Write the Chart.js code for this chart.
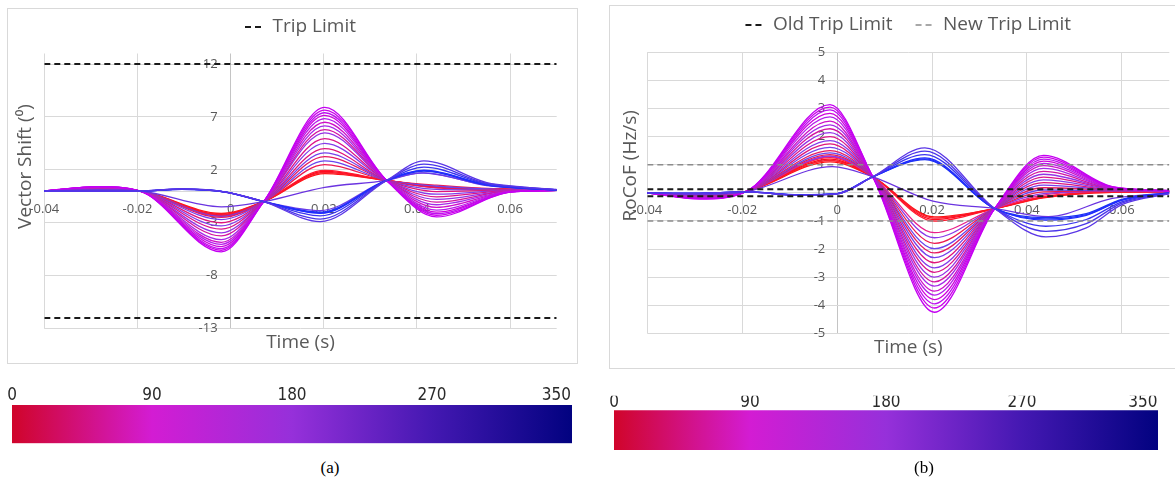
<!DOCTYPE html>
<html>
<head>
<meta charset="utf-8">
<script src="https://cdn.jsdelivr.net/npm/chart.js@4.4.1/dist/chart.umd.min.js"></script>
<style>
    html, body { margin: 0; padding: 0; background: #fff; }
    body { width: 1175px; height: 482px; position: relative; overflow: hidden; }
    .frame { position: absolute; border: 1px solid #d9d9d9; box-sizing: border-box; }
    canvas { position: absolute; }
    .caption { position: absolute; font: 17px "Liberation Serif", "Times New Roman", serif; color: #000; transform: translate(-50%, -50%); }
</style>
</head>
<body>
<div class="frame" style="left:7px;top:8px;width:571px;height:356px"></div>
<div class="frame" style="left:609px;top:5px;width:580px;height:364px"></div>
<canvas id="vsChart" width="590" height="372" style="left:0;top:0"></canvas>
<canvas id="rcChart" width="575" height="372" style="left:600px;top:0"></canvas>
<canvas id="vsBar" width="590" height="72" style="left:0;top:378px"></canvas>
<canvas id="rcBar" width="575" height="82" style="left:600px;top:378px"></canvas>
<div class="caption" style="left:330px;top:468px">(a)</div>
<div class="caption" style="left:924px;top:468px">(b)</div>

<script>
// ========================================
// DATA
// ========================================

// shared time axis
const timeRange = [-0.04, 0.07];
const timeTicks = [-0.04, -0.02, 0, 0.02, 0.04, 0.06];
const timeTickLabels = ["-0.04", "-0.02", "0", "0.02", "0.04", "0.06"];

// (a) vector shift
const vsRange = [-13, 13];
const vsTicks = [-13, -8, -3, 2, 7, 12];
const vsTripLimit = 12;

const vsFanTime = [-0.04, -0.0285, -0.0195, -0.002, 0.0071, 0.0202, 0.0335, 0.0442, 0.06, 0.07];
const vsFan = [
    [0, 0.42, 0, -5.75, -1.0, 7.90, 1.0, -2.45, -0.10, 0.05],
    [0, 0.41, 0, -5.60, -1.0, 7.65, 1.0, -2.30, -0.10, 0.05],
    [0, 0.40, 0, -5.45, -1.0, 7.40, 1.0, -2.15, -0.08, 0.05],
    [0, 0.39, 0, -5.25, -1.0, 7.15, 1.0, -2.00, -0.08, 0.05],
    [0, 0.38, 0, -5.05, -1.0, 6.85, 1.0, -1.80, -0.06, 0.05],
    [0, 0.36, 0, -4.85, -1.0, 6.50, 1.0, -1.55, -0.05, 0.05],
    [0, 0.35, 0, -4.60, -1.0, 6.15, 1.0, -1.30, -0.03, 0.05],
    [0, 0.33, 0, -4.25, -1.0, 5.80, 1.0, -1.05, 0.00, 0.05],
    [0, 0.32, 0, -3.95, -1.0, 5.50, 1.0, -0.80, 0.02, 0.05],
    [0, 0.30, 0, -3.60, -1.0, 4.95, 1.0, -0.55, 0.04, 0.05],
    [0, 0.28, 0, -3.30, -1.0, 4.50, 1.0, -0.30, 0.05, 0.05],
    [0, 0.27, 0, -3.00, -1.0, 4.00, 1.0, -0.05, 0.07, 0.06],
    [0, 0.25, 0, -2.70, -1.0, 3.60, 1.0, 0.15, 0.09, 0.06],
    [0, 0.24, 0, -2.50, -1.0, 3.25, 1.0, 0.30, 0.10, 0.07],
    [0, 0.22, 0, -2.40, -1.0, 2.85, 1.0, 0.45, 0.12, 0.08],
    [0, 0.21, 0, -2.30, -1.0, 2.50, 1.0, 0.55, 0.14, 0.08],
    [0, 0.20, 0, -2.36, -1.0, 1.95, 1.0, 0.42, 0.18, 0.10],
    [0, 0.20, 0, -2.28, -1.0, 1.85, 1.0, 0.40, 0.17, 0.10],
    [0, 0.19, 0, -2.20, -1.0, 1.75, 1.0, 0.36, 0.16, 0.10],
    [0, 0.18, 0, -2.12, -1.0, 1.65, 1.0, 0.32, 0.15, 0.10]
];

const vsBlueTime = [-0.04, -0.03, -0.0195, -0.0105, -0.001, 0.0071, 0.0192, 0.0335, 0.0415, 0.055, 0.062, 0.07];
const vsBlue = [
    [0, 0, 0, 0.20, -0.10, -1.0, -2.90, 1.0, 2.85, 0.80, 0.42, 0.14],
    [0, 0, 0, 0.19, -0.10, -1.0, -2.65, 1.0, 2.55, 0.72, 0.38, 0.13],
    [0, 0, 0, 0.18, -0.10, -1.0, -2.35, 1.0, 2.25, 0.66, 0.34, 0.12],
    [0, 0, 0, 0.17, -0.10, -1.0, -2.12, 1.0, 1.97, 0.60, 0.30, 0.12],
    [0, 0, 0, 0.17, -0.10, -1.0, -2.06, 1.0, 1.92, 0.58, 0.29, 0.11],
    [0, 0, 0, 0.16, -0.10, -1.0, -2.00, 1.0, 1.87, 0.56, 0.28, 0.11],
    [0, 0, 0, 0.15, -0.12, -1.0, -1.85, 1.0, 1.72, 0.50, 0.25, 0.10]
];

const vsOddTime = [-0.04, -0.0285, -0.0195, -0.002, 0.0071, 0.0202, 0.0335, 0.041, 0.055, 0.07];
const vsOdd = [0, 0.12, 0, -1.5, -1.0, 0.35, 1.0, 1.72, 0.55, 0.12];

// (b) RoCoF
const rcRange = [-5, 5];
const rcTicks = [-5, -4, -3, -2, -1, 0, 1, 2, 3, 4, 5];
const rcOldLimit = 0.125;
const rcNewLimit = 1;

const rcFanTime = [-0.04, -0.029, -0.0191, -0.0015, 0.0075, 0.0205, 0.0332, 0.0435, 0.058, 0.07];
const rcFan = [
    [0, -0.22, 0.05, 3.14, 0.57, -4.25, -0.56, 1.33, 0.22, 0.08],
    [0, -0.21, 0.05, 3.05, 0.57, -4.10, -0.56, 1.27, 0.21, 0.08],
    [0, -0.20, 0.05, 2.95, 0.57, -3.95, -0.56, 1.20, 0.20, 0.08],
    [0, -0.20, 0.05, 2.83, 0.57, -3.80, -0.56, 1.13, 0.19, 0.07],
    [0, -0.19, 0.05, 2.70, 0.57, -3.64, -0.56, 1.05, 0.18, 0.07],
    [0, -0.18, 0.05, 2.55, 0.57, -3.50, -0.56, 0.97, 0.17, 0.07],
    [0, -0.17, 0.05, 2.42, 0.57, -3.32, -0.56, 0.87, 0.16, 0.06],
    [0, -0.16, 0.05, 2.28, 0.57, -3.17, -0.56, 0.76, 0.15, 0.06],
    [0, -0.15, 0.05, 2.14, 0.57, -3.00, -0.56, 0.66, 0.14, 0.06],
    [0, -0.14, 0.05, 2.00, 0.57, -2.83, -0.56, 0.56, 0.13, 0.05],
    [0, -0.13, 0.05, 1.86, 0.57, -2.67, -0.56, 0.46, 0.12, 0.05],
    [0, -0.12, 0.05, 1.74, 0.57, -2.49, -0.56, 0.36, 0.11, 0.05],
    [0, -0.12, 0.05, 1.62, 0.57, -2.31, -0.56, 0.27, 0.10, 0.05],
    [0, -0.11, 0.05, 1.50, 0.57, -2.14, -0.56, 0.18, 0.09, 0.04],
    [0, -0.10, 0.05, 1.42, 0.57, -1.99, -0.56, 0.10, 0.08, 0.04],
    [0, -0.10, 0.05, 1.36, 0.57, -1.80, -0.56, 0.03, 0.07, 0.04],
    [0, -0.09, 0.05, 1.31, 0.57, -1.60, -0.56, -0.03, 0.06, 0.04],
    [0, -0.09, 0.05, 1.28, 0.57, -1.42, -0.56, -0.08, 0.05, 0.04],
    [0, -0.08, 0.05, 1.25, 0.57, -1.01, -0.56, -0.14, 0.03, 0.04],
    [0, -0.08, 0.05, 1.20, 0.57, -0.95, -0.56, -0.15, 0.03, 0.04],
    [0, -0.08, 0.05, 1.15, 0.57, -0.90, -0.56, -0.16, 0.02, 0.03],
    [0, -0.07, 0.05, 1.10, 0.57, -0.86, -0.56, -0.18, 0.02, 0.03]
];

const rcBlueTime = [-0.04, -0.03, -0.0191, -0.008, 0.0, 0.0075, 0.0185, 0.0332, 0.044, 0.0525, 0.06, 0.07];
const rcBlue = [
    [0, -0.02, 0.03, -0.09, -0.04, 0.57, 1.60, -0.56, -1.57, -1.25, -0.42, -0.03],
    [0, -0.02, 0.03, -0.09, -0.04, 0.57, 1.48, -0.56, -1.37, -1.10, -0.37, -0.03],
    [0, -0.02, 0.03, -0.08, -0.04, 0.57, 1.36, -0.56, -1.19, -0.95, -0.32, -0.02],
    [0, -0.02, 0.03, -0.08, -0.03, 0.57, 1.24, -0.56, -0.97, -0.80, -0.27, -0.01],
    [0, -0.02, 0.03, -0.08, -0.03, 0.57, 1.21, -0.56, -0.93, -0.78, -0.25, 0.00],
    [0, -0.02, 0.03, -0.07, -0.03, 0.57, 1.18, -0.56, -0.88, -0.74, -0.23, 0.00]
];

const rcOddTime = [-0.04, -0.029, -0.0191, -0.001, 0.0075, 0.0202, 0.0332, 0.0445, 0.058, 0.07];
const rcOdd = [0, -0.06, 0.04, 0.93, 0.57, -0.30, -0.56, -0.85, -0.20, 0.0];

// colour bar (phase angle, degrees)
const cbRange = [0, 360];
const cbTicks = [0, 90, 180, 270, 350];
const cbStopAngles = [0, 90, 180, 270, 360];

// ========================================
// COLOURS
// ========================================
const cbStopColors = ["#d0052a", "#d31cd3", "#9630da", "#4418b2", "#020280"];
const fanColors = ["#c400f2", "#cc00ea", "#bd10f0", "#d000dc", "#b41eec", "#d010c8", "#a52ae8", "#d4149f",
                   "#9432e6", "#dc1488", "#843cea", "#e0147a", "#7640ec", "#e61a60", "#6a44ee", "#ec1a50",
                   "#8a38e8", "#e8208a", "#ff1a2e", "#ff0a1e", "#fa2030", "#ff1010"];
const vsFanColors = fanColors.slice(0, 16).concat(fanColors.slice(18));
const blueColors = ["#5a36e6", "#4a34ea", "#3a34f0", "#1f2cff", "#2530f8", "#1a33f5", "#6a3ae8"];
const oddColor = "#6b34e0";
const textColor = "#595959";
const gridColor = "#d9d9d9";
const axisColor = "#c4c4c4";

Chart.defaults.font.family = "'Open Sans', 'Noto Sans', sans-serif";
Chart.defaults.color = textColor;

// ========================================
// HELPERS
// ========================================
function toPoints(times, values) {
    return values.map((v, i) => ({ x: times[i], y: v }));
}

function curveSets(times, rows, colors) {
    return rows.map((row, i) => ({
        data: toPoints(times, row),
        borderColor: colors[i],
        borderWidth: 1.3,
        pointRadius: 0,
        cubicInterpolationMode: "monotone",
        fill: false
    }));
}

function limitSet(label, value, color, width) {
    return {
        label: label,
        data: timeRange.map(t => ({ x: t, y: value })),
        borderColor: color,
        backgroundColor: "transparent",
        borderWidth: width,
        borderDash: [6, 4],
        pointRadius: 0
    };
}

function hiddenAxis(extra) {
    return Object.assign({
        type: "linear",
        min: 0,
        max: 1,
        display: true,
        grid: { display: false, drawTicks: false },
        border: { display: false },
        ticks: { display: false }
    }, extra);
}

function panelOptions(p) {
    return {
        responsive: false,
        devicePixelRatio: 1,
        animation: false,
        layout: { padding: p.padding },
        plugins: {
            legend: {
                position: "top",
                fullSize: false,
                labels: {
                    boxWidth: 18,
                    boxHeight: 0,
                    padding: p.legendGap,
                    color: textColor,
                    font: { size: 19 },
                    filter: item => !!item.text
                }
            },
            // empty block used as a gap between legend and plot
            title: { display: true, text: "", weight: 500, padding: 0, font: { size: p.spacer, lineHeight: 1 } },
            tooltip: { enabled: false }
        },
        scales: {
            x: {
                type: "linear",
                min: timeRange[0],
                max: timeRange[1],
                position: { y: 0 },
                afterBuildTicks: s => { s.ticks = timeTicks.map(v => ({ value: v })); },
                // the vertical line at t = 0 doubles as the value axis
                grid: { color: c => (c.tick && c.tick.value === 0 ? axisColor : gridColor), drawTicks: false },
                border: { color: gridColor },
                ticks: {
                    padding: p.xTickPad,
                    font: { size: 13 },
                    color: textColor,
                    maxRotation: 0,
                    autoSkip: false,
                    callback: (v, i) => timeTickLabels[i]
                }
            },
            y: {
                type: "linear",
                min: p.yRange[0],
                max: p.yRange[1],
                // labels sit a little to the left of t = 0
                position: { x: p.yLabelsAt },
                afterBuildTicks: s => { s.ticks = p.yTicks.map(v => ({ value: v })); },
                grid: { color: gridColor, drawTicks: false },
                border: { display: false },
                ticks: { padding: 0, font: { size: 13 }, color: textColor }
            },
            yTitle: hiddenAxis({
                position: "left",
                stack: "ytitle",
                stackWeight: p.titleSplit[0],
                weight: 1,
                title: { display: true, text: p.yTitle, color: textColor, font: { size: 19 }, padding: p.yTitlePad }
            }),
            ySpace: hiddenAxis({
                position: "left",
                stack: "ytitle",
                stackWeight: p.titleSplit[1],
                weight: 0
            }),
            xTitle: hiddenAxis({
                position: "bottom",
                title: { display: true, text: "Time (s)", color: textColor, font: { size: 19 }, padding: p.xTitlePad }
            })
        }
    };
}

function hueGradient(chart) {
    const area = chart.chartArea;
    if (!area) return "transparent";
    const g = chart.ctx.createLinearGradient(area.left, 0, area.right, 0);
    cbStopAngles.forEach((a, i) => {
        g.addColorStop((a - cbRange[0]) / (cbRange[1] - cbRange[0]), cbStopColors[i]);
    });
    return g;
}

function colorBar(id, p) {
    return new Chart(document.getElementById(id), {
        type: "bar",
        data: {
            labels: ["angle"],
            datasets: [{
                data: [cbRange],
                backgroundColor: c => hueGradient(c.chart),
                borderWidth: 0,
                barPercentage: 1,
                categoryPercentage: 1
            }]
        },
        options: {
            indexAxis: "y",
            responsive: false,
            devicePixelRatio: 1,
            animation: false,
            layout: { padding: p.padding },
            plugins: { legend: { display: false }, tooltip: { enabled: false } },
            scales: {
                x: {
                    type: "linear",
                    position: "top",
                    min: cbRange[0],
                    max: cbRange[1],
                    afterBuildTicks: s => { s.ticks = cbTicks.map(v => ({ value: v })); },
                    grid: { display: false, drawTicks: false },
                    border: { display: false },
                    ticks: {
                        padding: p.tickPad,
                        color: "#2a2a2a",
                        autoSkip: false,
                        maxRotation: 0,
                        font: { family: "'Liberation Sans Narrow', 'DejaVu Sans Condensed', sans-serif", size: 17, lineHeight: 0.9 }
                    }
                },
                y: { display: false }
            }
        }
    });
}

// ========================================
// (a) VECTOR SHIFT
// ========================================
new Chart(document.getElementById("vsChart"), {
    type: "line",
    data: {
        datasets: [
            limitSet("Trip Limit", vsTripLimit, "#1a1a1a", 2),
            limitSet(undefined, -vsTripLimit, "#1a1a1a", 2),
            ...curveSets(vsBlueTime, vsBlue, blueColors),
            ...curveSets(vsOddTime, [vsOdd], [oddColor]),
            ...curveSets(vsFanTime, vsFan, vsFanColors)
        ]
    },
    options: panelOptions({
        padding: { left: 8, right: 33.3, top: 7.5, bottom: 10 },
        legendGap: 10,
        spacer: 7,
        xTickPad: 10.5,
        yRange: vsRange,
        yTicks: vsTicks,
        yLabelsAt: -0.0028,
        yTitle: "Vector Shift (\u2070)",
        yTitlePad: { top: 6, bottom: 7.5 },
        titleSplit: [226, 49],
        xTitlePad: { top: 2.6, bottom: 8.1 }
    })
});

// ========================================
// (b) RoCoF
// ========================================
new Chart(document.getElementById("rcChart"), {
    type: "line",
    data: {
        datasets: [
            limitSet("Old Trip Limit", rcOldLimit, "#1a1a1a", 2),
            limitSet(undefined, -rcOldLimit, "#1a1a1a", 2),
            limitSet("New Trip Limit", rcNewLimit, "#8c8c8c", 1.5),
            limitSet(undefined, -rcNewLimit, "#8c8c8c", 1.5),
            ...curveSets(rcBlueTime, rcBlue, blueColors),
            ...curveSets(rcOddTime, [rcOdd], [oddColor]),
            ...curveSets(rcFanTime, rcFan, fanColors)
        ]
    },
    options: panelOptions({
        padding: { left: 10, right: 5.7, top: -7.5, bottom: 5 },
        legendGap: 23,
        spacer: 7.8,
        xTickPad: 10,
        yRange: rcRange,
        yTicks: rcTicks,
        yLabelsAt: -0.0025,
        yTitle: "RoCoF (Hz/s)",
        yTitlePad: { top: 9.4, bottom: 5.1 },
        titleSplit: [227, 54],
        xTitlePad: { top: 2.8, bottom: 8.1 }
    })
});

// ========================================
// COLOUR BARS
// ========================================
colorBar("vsBar", { padding: { left: 12, right: 18, top: 8.4, bottom: 6.7 }, tickPad: 1.6 });
colorBar("rcBar", { padding: { left: 14, right: 17, top: 17.8, bottom: 10 }, tickPad: -0.4 });
</script>
</body>
</html>
